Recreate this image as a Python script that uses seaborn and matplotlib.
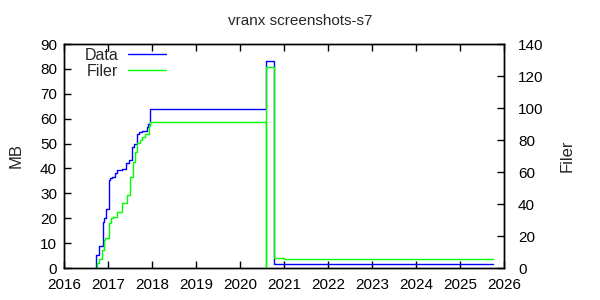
import matplotlib
matplotlib.use("Agg")
import matplotlib.pyplot as plt
import seaborn as sns
import pandas as pd

# Data (decimal years)
data_t = [2016.72, 2016.73, 2016.79, 2016.88, 2016.90, 2016.95, 2017.03, 2017.05,
          2017.09, 2017.16, 2017.21, 2017.31, 2017.41, 2017.48, 2017.55, 2017.60,
          2017.65, 2017.71, 2017.77, 2017.89, 2017.92, 2017.95, 2020.58, 2020.77,
          2025.76]
data_mb = [0, 5.2, 8.8, 18.6, 20, 23.7, 35.3, 36, 36.7, 38.3, 39.4, 39.6, 42, 43.4,
           48.7, 50, 54, 54.6, 55, 56.5, 58, 64, 83, 1.5, 1.5]

filer_t = [2016.72, 2016.75, 2016.80, 2016.86, 2016.91, 2016.93, 2017.03, 2017.06,
           2017.12, 2017.20, 2017.31, 2017.43, 2017.50, 2017.56, 2017.61, 2017.67,
           2017.73, 2017.78, 2017.84, 2017.94, 2017.96, 2020.585, 2020.59, 2020.77,
           2021.00, 2025.76]
filer_n = [0, 3, 5.4, 11, 17.5, 18.5, 28, 31, 32, 35, 40.4, 45.6, 57, 66, 72.7, 78,
           80, 82, 84, 89, 91, 0, 125.5, 6.3, 5.5, 5.5]

x_ticks = list(range(2016, 2027))
mb_ticks = list(range(0, 91, 10))
filer_ticks = list(range(0, 141, 20))

sns.set_style("white")
plt.rcParams["font.family"] = ["Liberation Sans", "DejaVu Sans"]
plt.rcParams["font.size"] = 11

fig = plt.figure(figsize=(6, 3), dpi=100)
ax = fig.add_axes([64/600, 1-268/300, 440/600, 224/300])
ax2 = ax.twinx()

df_d = pd.DataFrame({"t": data_t, "v": data_mb})
df_f = pd.DataFrame({"t": filer_t, "v": filer_n})

sns.lineplot(data=df_d, x="t", y="v", ax=ax, color="#0000ff", linewidth=1.0,
             drawstyle="steps-post", estimator=None, sort=False, label="Data", legend=False)
sns.lineplot(data=df_f, x="t", y="v", ax=ax2, color="#00ff00", linewidth=1.0,
             drawstyle="steps-post", estimator=None, sort=False, label="Filer", legend=False)

ax.set_xlim(2016, 2026)
ax.set_ylim(0, 90)
ax2.set_ylim(0, 140)
ax.set_xticks(x_ticks)
ax.set_xticklabels([str(v) for v in x_ticks])
ax.set_yticks(mb_ticks)
ax2.set_yticks(filer_ticks)

ax.set_xlabel("")
ax.set_ylabel("MB", labelpad=12, fontsize=12)
ax2.set_ylabel("Filer", labelpad=12, fontsize=12)

for a in (ax, ax2):
    for s in a.spines.values():
        s.set_color("black")
        s.set_linewidth(1.0)
ax.tick_params(axis="x", direction="in", length=5, width=1, top=True, bottom=True,
               pad=7, colors="black")
ax.tick_params(axis="y", direction="in", length=5, width=1, left=True, right=False,
               pad=5, colors="black")
ax2.tick_params(axis="y", direction="in", length=5, width=1, right=True, left=False,
                pad=10, colors="black")

fig.suptitle("vranx screenshots-s7", y=1-14/300, fontsize=11, va="top")

lines = ax.get_lines() + ax2.get_lines()
leg = ax.legend(lines, ["Data", "Filer"], loc="upper left", bbox_to_anchor=(0.025, 1.025),
                frameon=False, markerfirst=False, handlelength=2.4, handletextpad=0.6,
                labelspacing=0.05, borderaxespad=0.2, fontsize=11.5)

fig.savefig("out.png", dpi=100)
